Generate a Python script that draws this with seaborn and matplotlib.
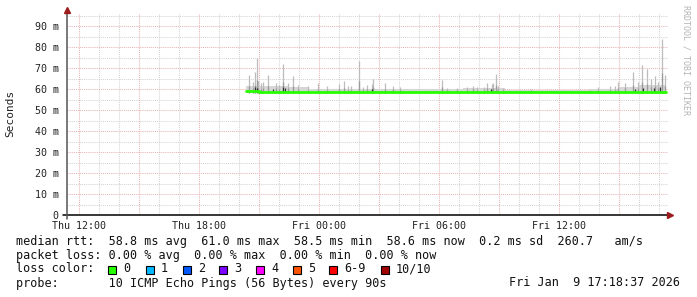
import matplotlib
matplotlib.use("Agg")
import matplotlib.pyplot as plt
import seaborn as sns
import pandas as pd
from matplotlib.patches import Rectangle

# ---------------- data (hours since Thu 00:00, values in ms) ----------------
median_hours = [20.35, 21.0, 22.5, 24.0, 28.0, 31.0, 33.3, 38.0, 40.0, 41.35]
median_ms    = [58.9, 58.8, 58.8, 58.7, 58.6, 58.7, 58.6, 58.7, 58.8, 58.8]

band_hours = [20.35, 22.5, 23.5, 27.5, 31.2, 33.3, 37.5, 39.0, 40.0, 41.35]
band_top   = [61.5, 60.8, 60.2, 59.8, 60.3, 59.4, 60.0, 61.0, 61.8, 61.8]
band_low   = 58.2

spike_hours = [20.5, 20.7, 20.8, 20.885, 20.95, 21.085, 21.185, 21.47, 21.85, 22.0,
               22.2, 22.45, 22.68, 22.95, 23.45, 23.95, 24.38, 25.0, 25.25, 25.43,
               25.6, 26.0, 26.2, 26.38, 26.63, 26.72, 27.3, 27.7, 28.05, 30.13,
               30.4, 30.9, 31.38, 31.68, 31.9, 32.25, 32.4, 32.63, 32.7, 32.85,
               32.97, 33.2, 34.6, 37.55, 37.97, 38.55, 38.8, 38.97, 39.3, 39.72,
               39.95, 40.17, 40.38, 40.6, 40.8, 40.95, 41.13, 41.3]
spike_top   = [66.7, 63.5, 68.0, 75.0, 64.0, 62.8, 63.5, 66.5, 63.0, 62.0,
               72.0, 63.0, 66.0, 62.0, 61.5, 62.8, 61.5, 62.5, 64.0, 61.5,
               61.5, 73.5, 61.0, 61.7, 62.5, 65.0, 62.8, 61.6, 61.0, 64.3,
               60.5, 60.5, 61.0, 61.6, 61.0, 61.0, 63.0, 62.3, 63.0, 67.0,
               61.6, 60.5, 59.8, 59.5, 61.0, 61.4, 61.5, 63.5, 63.0, 68.3,
               63.5, 71.4, 69.4, 65.0, 66.0, 63.5, 83.7, 66.7]

dark_hours = [20.8, 20.9, 21.7, 22.2, 22.3, 26.65, 32.6, 39.8, 40.2, 40.75, 41.05]
dark_top   = [61.0, 60.5, 60.0, 61.0, 60.5, 59.8, 60.0, 60.2, 60.5, 60.3, 60.8]

x_label_hours = [12, 18, 24, 30, 36]
x_labels = ["Thu 12:00", "Thu 18:00", "Fri 00:00", "Fri 06:00", "Fri 12:00"]
y_ticks = [0, 10, 20, 30, 40, 50, 60, 70, 80, 90]
y_labels = ["0", "10 m", "20 m", "30 m", "40 m", "50 m", "60 m", "70 m", "80 m", "90 m"]

loss_labels = ["0", "1", "2", "3", "4", "5", "6-9", "10/10"]
loss_colors = ["#26ff00", "#00b8ff", "#0059ff", "#7e00ff", "#ff00ff", "#ff5500", "#ff0000", "#a10000"]

stats_line1 = "median rtt:  58.8 ms avg  61.0 ms max  58.5 ms min  58.6 ms now  0.2 ms sd  260.7   am/s"
stats_line2 = "packet loss: 0.00 % avg  0.00 % max  0.00 % min  0.00 % now"
probe_line = "probe:       10 ICMP Echo Pings (56 Bytes) every 90s"
stamp = "Fri Jan  9 17:18:37 2026"

# ---------------- figure ----------------
sns.set_style("white")
plt.rcParams["font.family"] = ["DejaVu Sans Mono", "DejaVu Sans"]

W, H = 697, 297
fig = plt.figure(figsize=(W / 100, H / 100), dpi=100)
fig.patch.set_facecolor("white")
L, R, T, B = 67, 668, 14, 215
ax = fig.add_axes([L / W, 1 - B / H, (R - L) / W, (B - T) / H])
ax.set_facecolor("white")

XMIN, XMAX = 11.4, 11.4 + (R - L) / 20.0
YMAX = (B - T) / 2.1
ax.set_xlim(XMIN, XMAX)
ax.set_ylim(0, YMAX)

for s in ax.spines.values():
    s.set_visible(False)

dot = (0, (1, 1))
major_c = "#e8b4b4"
minor_c = "#d4d4d4"
# minor grid
for h in range(12, 42):
    if h % 3 != 0:
        ax.axvline(h, color=minor_c, lw=0.75, ls=dot, zorder=0)
for v in range(5, 100, 10):
    ax.axhline(v, color=minor_c, lw=0.75, ls=dot, zorder=0)
# major grid
for h in range(12, 42, 3):
    ax.axvline(h, color=major_c, lw=0.75, ls=dot, zorder=0)
for v in range(10, 100, 10):
    ax.axhline(v, color=major_c, lw=0.75, ls=dot, zorder=0)

# smoke band
ax.fill_between(band_hours, band_low, band_top, step="post", color="#d6d6d6", lw=0, zorder=1)
# smoke spikes
ax.vlines(spike_hours, band_low, spike_top, color="#bcbcbc", lw=0.9, zorder=2)
inner = [58.8 + (t - 58.8) * 0.35 for t in spike_top]
ax.vlines(spike_hours, band_low, inner, color="#9a9a9a", lw=0.9, zorder=2)
ax.vlines(dark_hours, 58.4, dark_top, color="#303030", lw=0.9, zorder=3)

# median line
df = pd.DataFrame({"hour": median_hours, "ms": median_ms})
sns.lineplot(data=df, x="hour", y="ms", ax=ax, color="#26ff00", lw=2.0,
             drawstyle="steps-post", zorder=4)
ax.set_xlabel("")
ax.set_ylabel("")

# ticks
ax.set_xticks(x_label_hours)
ax.set_xticklabels(x_labels)
ax.set_yticks(y_ticks)
ax.set_yticklabels(y_labels)
ax.tick_params(axis="both", length=0, labelsize=7.2, colors="#222222")
ax.tick_params(axis="x", pad=4)
ax.tick_params(axis="y", pad=6)

# axis lines & arrows
ax.plot([-4 / (R - L), 1.0], [0, 0], transform=ax.transAxes, color="black", lw=1.1, clip_on=False, zorder=5)
ax.plot([0, 0], [-4 / (B - T), 1.0], transform=ax.transAxes, color="#555555", lw=1.1, clip_on=False, zorder=5)
ax.plot([1.004], [0], transform=ax.transAxes, marker=">", ms=4.5, color="#9b1c1c", clip_on=False, zorder=6)
ax.plot([0], [1.02], transform=ax.transAxes, marker="^", ms=4.5, color="#9b1c1c", clip_on=False, zorder=6)

# y label and watermark
fig.text(10 / W, 1 - 113 / H, "Seconds", rotation=90, ha="center", va="center", fontsize=8, color="#222222")
fig.text(686 / W, 1 - 60 / H, "RRDTOOL / TOBI OETIKER", rotation=270, ha="center", va="center",
         fontsize=6, color="#b4b4b4")

# legend / stats text
fs = 8.5
def ftext(x, y, s, **kw):
    fig.text(x / W, 1 - y / H, s, va="center", fontsize=fs, color="#111111", **kw)

ftext(16, 241, stats_line1)
ftext(16, 255, stats_line2)
ftext(16, 269, "loss color:")
box_x = [108.3, 145.7, 182.7, 219.3, 256.0, 292.7, 329.3, 381.0]
for bx, lab, col in zip(box_x, loss_labels, loss_colors):
    fig.patches.append(Rectangle((bx / W, 1 - 273.5 / H), 8 / W, 8 / H, transform=fig.transFigure,
                                 facecolor=col, edgecolor="black", lw=0.8))
    ftext(bx + 15, 269, lab)
ftext(16, 283, probe_line)
ftext(680, 283, stamp, ha="right")

fig.savefig("out.png", dpi=100, facecolor="white")
